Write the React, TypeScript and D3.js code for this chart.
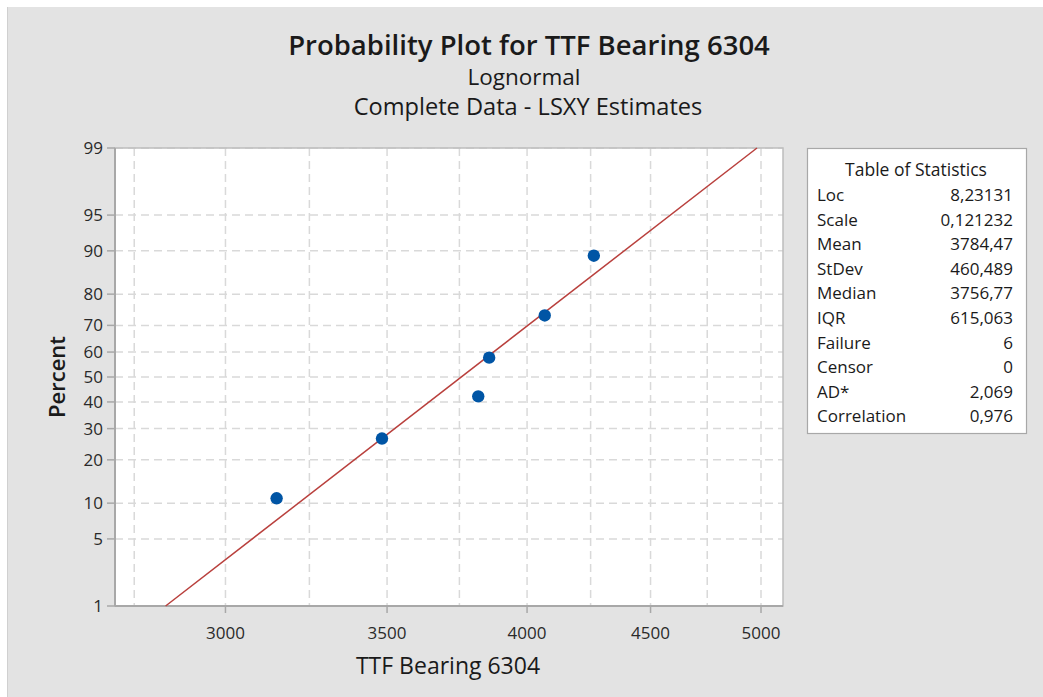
import React from 'react';
import * as d3 from 'd3';

// failure times (hours) and their median ranks (%)
const ttfValues = [3150, 3483, 3818, 3858, 4068, 4263];
const percentValues = [10.9, 26.6, 42.2, 57.8, 73.4, 89.1];

const xTicks = [3000, 3500, 4000, 4500, 5000];
const xGrid = [2750, 3000, 3250, 3500, 3750, 4000, 4250, 4500, 4750, 5000];
const yTicks = [1, 5, 10, 20, 30, 40, 50, 60, 70, 80, 90, 95, 99];

// fitted lognormal (LSXY)
const fitLoc = 8.23131;
const fitScale = 0.121232;

const statLabels = ['Loc', 'Scale', 'Mean', 'StDev', 'Median', 'IQR', 'Failure', 'Censor', 'AD*', 'Correlation'];
const statValues = ['8,23131', '0,121232', '3784,47', '460,489', '3756,77', '615,063', '6', '0', '2,069', '0,976'];

// inverse standard normal cdf (Acklam)
const probit = (p: number) => {
  const a = [-39.69683028665376, 220.9460984245205, -275.9285104469687, 138.357751867269, -30.66479806614716, 2.506628277459239];
  const b = [-54.47609879822406, 161.5858368580409, -155.6989798598866, 66.80131188771972, -13.28068155288572];
  const c = [-0.007784894002430293, -0.3223964580411365, -2.400758277161838, -2.549732539343734, 4.374664141464968, 2.938163982698783];
  const d = [0.007784695709041462, 0.3224671290700398, 2.445134137142996, 3.754408661907416];
  const pl = 0.02425;
  let q, r;
  if (p < pl) {
    q = Math.sqrt(-2 * Math.log(p));
    return (((((c[0] * q + c[1]) * q + c[2]) * q + c[3]) * q + c[4]) * q + c[5]) / ((((d[0] * q + d[1]) * q + d[2]) * q + d[3]) * q + 1);
  }
  if (p > 1 - pl) {
    q = Math.sqrt(-2 * Math.log(1 - p));
    return -(((((c[0] * q + c[1]) * q + c[2]) * q + c[3]) * q + c[4]) * q + c[5]) / ((((d[0] * q + d[1]) * q + d[2]) * q + d[3]) * q + 1);
  }
  q = p - 0.5;
  r = q * q;
  return ((((((a[0] * r + a[1]) * r + a[2]) * r + a[3]) * r + a[4]) * r + a[5]) * q) / (((((b[0] * r + b[1]) * r + b[2]) * r + b[3]) * r + b[4]) * r + 1);
};

const W = 1043;
const H = 697;
const plot = { left: 115, right: 783, top: 148, bottom: 606 };
const font = '"Open Sans", "Noto Sans", sans-serif';

export default function App() {
  const x = d3.scaleLog().domain([2700, 5106]).range([plot.left, plot.right]);
  const zScale = d3.scaleLinear().domain([probit(0.01), probit(0.99)]).range([plot.bottom, plot.top]);
  const y = (pct: number) => zScale(probit(pct / 100));

  // fitted line from 1% to 99%
  const linePts = [1, 99].map((p) => [x(Math.exp(fitLoc + fitScale * probit(p / 100))), y(p)] as [number, number]);
  const line = d3.line();

  const gridColor = '#d9d9d9';
  const rowH = 24.6;

  return (
    <svg width={W} height={H} style={{ position: 'absolute', left: 0, top: 0 }} fontFamily={font}>
      <rect x={0} y={0} width={W} height={H} fill="#ffffff" />
      <rect x={7} y={7} width={W - 7} height={H - 7} fill="#e3e3e3" />
      <line x1={7.5} x2={7.5} y1={7} y2={H} stroke="#d0d0d0" />

      {/* titles */}
      <text x={529} y={55} textAnchor="middle" fontSize={27.5} fontWeight={600} fill="#1a1a1a">
        Probability Plot for TTF Bearing 6304
      </text>
      <text x={524} y={85} textAnchor="middle" fontSize={22.5} fill="#1a1a1a">Lognormal</text>
      <text x={528} y={115} textAnchor="middle" fontSize={23.6} fill="#1a1a1a">Complete Data - LSXY Estimates</text>

      {/* plot area */}
      <rect x={plot.left} y={plot.top} width={plot.right - plot.left} height={plot.bottom - plot.top} fill="#ffffff" />
      <g>
        {xGrid.map((v) => (
          <line key={'gx' + v} x1={x(v)} x2={x(v)} y1={plot.top} y2={plot.bottom}
            stroke={gridColor} strokeWidth={1.5} strokeDasharray="8,5" />
        ))}
        {yTicks.map((v) => (
          <line key={'gy' + v} x1={plot.left} x2={plot.right} y1={y(v)} y2={y(v)}
            stroke={gridColor} strokeWidth={1.5} strokeDasharray="8,5" />
        ))}
      </g>
      <rect x={plot.left} y={plot.top} width={plot.right - plot.left} height={plot.bottom - plot.top}
        fill="none" stroke="#bdbdbd" strokeWidth={1.5} />
      <line x1={plot.left} x2={plot.left} y1={plot.top} y2={plot.bottom} stroke="#a8a8a8" strokeWidth={2} />
      <line x1={plot.left} x2={plot.right} y1={plot.bottom} y2={plot.bottom} stroke="#a8a8a8" strokeWidth={2} />

      {/* y axis */}
      {yTicks.map((v) => (
        <g key={'yt' + v}>
          <line x1={plot.left - 8} x2={plot.left} y1={y(v)} y2={y(v)} stroke="#a8a8a8" strokeWidth={1.5} />
          <text x={plot.left - 12} y={y(v)} dy="0.35em" textAnchor="end" fontSize={17} fill="#2a2a2a">{v}</text>
        </g>
      ))}
      <text transform={`translate(65,${(plot.top + plot.bottom) / 2}) rotate(-90)`} textAnchor="middle"
        fontSize={22} fontWeight={600} fill="#1a1a1a">Percent</text>

      {/* x axis */}
      {xTicks.map((v) => (
        <g key={'xt' + v}>
          <line x1={x(v)} x2={x(v)} y1={plot.bottom} y2={plot.bottom + 7} stroke="#a8a8a8" strokeWidth={1.5} />
          <text x={x(v)} y={639} textAnchor="middle" fontSize={17} fill="#2a2a2a">{v}</text>
        </g>
      ))}
      <text x={448} y={674} textAnchor="middle" fontSize={23} fill="#1a1a1a">TTF Bearing 6304</text>

      {/* fit line and points */}
      <path d={line(linePts) || ''} stroke="#b9403d" strokeWidth={1.5} fill="none" />
      {ttfValues.map((v, i) => (
        <circle key={'pt' + i} cx={x(v)} cy={y(percentValues[i])} r={6.2} fill="#0055a5" />
      ))}

      {/* table of statistics */}
      <rect x={807.5} y={148.5} width={219} height={285} fill="#ffffff" stroke="#a8a8a8" strokeWidth={1.2} />
      <text x={916} y={176} textAnchor="middle" fontSize={17.5} fill="#1a1a1a">Table of Statistics</text>
      {statLabels.map((lab, i) => (
        <g key={'st' + i}>
          <text x={817} y={195 + i * rowH} dy="0.35em" fontSize={17} fill="#1a1a1a">{lab}</text>
          <text x={1013} y={195 + i * rowH} dy="0.35em" textAnchor="end" fontSize={17} fill="#1a1a1a">{statValues[i]}</text>
        </g>
      ))}
    </svg>
  );
}
